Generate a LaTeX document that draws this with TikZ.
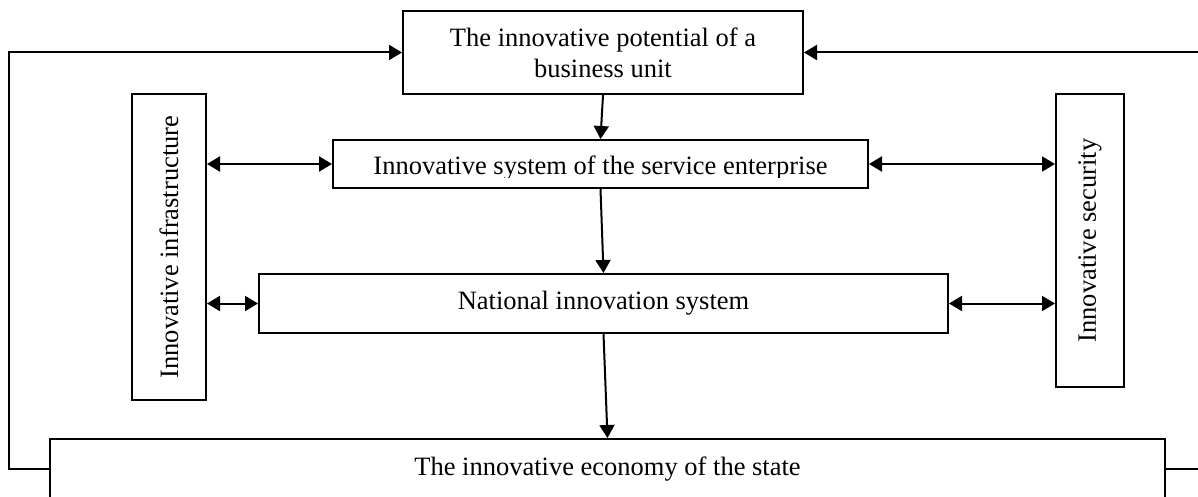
\documentclass[tikz,border=0pt]{standalone}
\usepackage{fontspec}
\setmainfont{Liberation Serif}
\usetikzlibrary{arrows.meta,calc}
\begin{document}
\begin{tikzpicture}[x=1pt,y=-1pt,
  box/.style={draw,line width=2pt,inner sep=0pt,align=center,font=\fontsize{26.5}{31}\selectfont},
  conn/.style={line width=2pt,-{Triangle[length=13pt,width=15pt]}},
  dconn/.style={line width=2pt,{Triangle[length=13pt,width=15pt]}-{Triangle[length=13pt,width=15pt]}},
  txt/.style={inner sep=0pt,font=\fontsize{26.5}{31}\selectfont}]
\clip (0,0) rectangle (1198,497);
\node[box,minimum width=400pt,minimum height=83pt] (top) at (603,52.5) {The innovative potential of a\\business unit};
\node[box,minimum width=74pt,minimum height=306pt] (infra) at (169,247) {\rotatebox{90}{Innovative infrastructure}};
\node[box,minimum width=68pt,minimum height=293pt] (sec) at (1090,240.5) {\rotatebox{90}{Innovative security}};
\node[box,minimum width=535pt,minimum height=48pt] (serv) at (600.5,164) {};
\begin{scope}
\clip (334,141) rectangle (867,178);
\node[txt,anchor=base] (servtxt) at (600.5,175) {Innovative system of the service enterprise};
\end{scope}
\node[box,minimum width=689pt,minimum height=59pt] (nat) at (603.5,303.5) {National innovation system};
\node[box,minimum width=1115pt,minimum height=60pt] (econ) at (607.5,469) {The innovative economy of the state};
\draw[conn] (top.south) -- (serv.north);
\draw[conn] (serv.south) -- (nat.north);
\draw[conn] (nat.south) -- (econ.north);
\draw[dconn] (serv.west -| infra.east) -- (serv.west);
\draw[dconn] (serv.east) -- (serv.east -| sec.west);
\draw[dconn] (nat.west -| infra.east) -- (nat.west);
\draw[dconn] (nat.east) -- (nat.east -| sec.west);
\coordinate (lc) at ($(econ.west)+(-40,0)$);
\coordinate (rc) at (1205,469);
\draw[conn] (econ.west) -- (lc) |- (top.west);
\draw[conn] (econ.east) -- (rc) |- (top.east);
\end{tikzpicture}
\end{document}
